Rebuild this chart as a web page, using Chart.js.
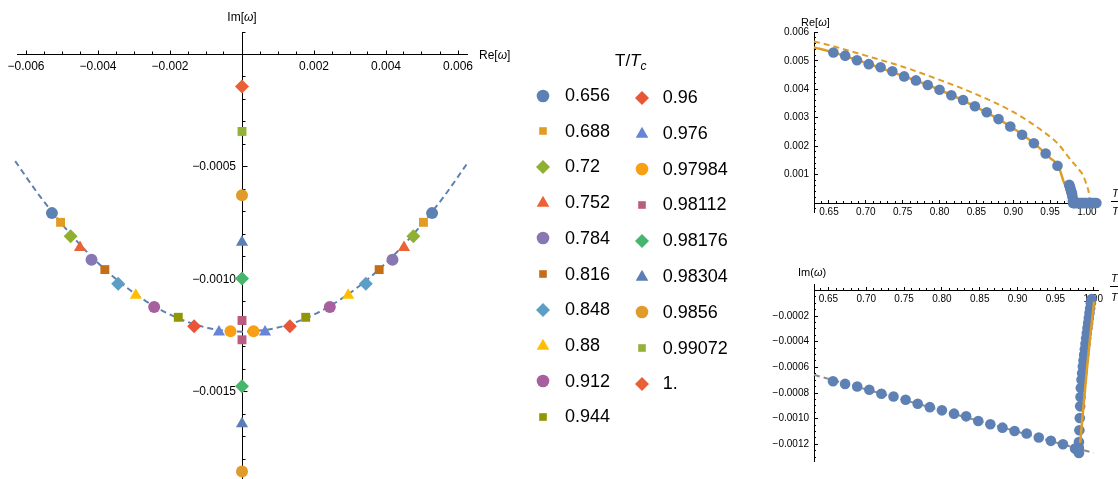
<!DOCTYPE html>
<html>
<head>
<meta charset="utf-8">
<title>Quasinormal modes near T_c</title>
<script src="https://cdn.jsdelivr.net/npm/chart.js@4.4.1/dist/chart.umd.min.js"></script>
<style>
  html, body { margin: 0; padding: 0; background: #fff; }
  body { position: relative; width: 1118px; height: 479px; overflow: hidden;
         font-family: "Liberation Sans", Arial, Helvetica, sans-serif; color: #000; }
  canvas { position: absolute; display: block; }
  .t { position: absolute; white-space: nowrap; line-height: 1; }
  .bar { position: absolute; height: 1px; background: #000; }
  #legend { position: absolute; left: 0; top: 0; width: 1118px; height: 479px; }
  #legend .row { position: absolute; white-space: nowrap; font-size: 18px; line-height: 18px; }
  #legend svg { position: absolute; overflow: visible; }
</style>
</head>
<body>
<canvas id="plane" width="520" height="479" style="left:0;top:0;width:520px;height:479px"></canvas>
<canvas id="rePanel" width="358" height="230" style="left:760px;top:0;width:358px;height:230px"></canvas>
<canvas id="imPanel" width="358" height="234" style="left:760px;top:245px;width:358px;height:234px"></canvas>

<!-- axis titles -->
<div class="t" style="left:242px;top:17px;font-size:12px;transform:translate(-50%,-50%)">Im[<i>ω</i>]</div>
<div class="t" style="left:479px;top:55px;font-size:12px;transform:translateY(-50%)">Re[<i>ω</i>]</div>
<div class="t" style="left:801px;top:22px;font-size:11px;transform:translateY(-50%)">Re[<i>ω</i>]</div>
<div class="t" style="left:798px;top:272px;font-size:11px;transform:translateY(-50%)">Im(<i>ω</i>)</div>
<div class="t" style="left:1112px;top:193px;font-size:11px;transform:translateY(-50%)"><i>T</i></div>
<div class="bar" style="left:1111px;top:201px;width:20px"></div>
<div class="t" style="left:1112px;top:213px;font-size:11px;transform:translateY(-50%)"><i>T<sub style="font-size:8px">c</sub></i></div>
<div class="t" style="left:1111px;top:278px;font-size:11px;transform:translateY(-50%)"><i>T</i></div>
<div class="bar" style="left:1110px;top:286px;width:20px"></div>
<div class="t" style="left:1111px;top:299px;font-size:11px;transform:translateY(-50%)"><i>T<sub style="font-size:8px">c</sub></i></div>

<div id="legend">
  <div class="t" style="left:615px;top:62px;font-size:17px;transform:translateY(-50%)">T/<i>T</i><sub style="font-size:12px"><i>c</i></sub></div>
</div>

<script>
// ---------------- complex-frequency plane: one mode pair per temperature ----------------
const tempLabels = ['0.656', '0.688', '0.72', '0.752', '0.784', '0.816', '0.848', '0.88', '0.912', '0.944',
                    '0.96', '0.976', '0.97984', '0.98112', '0.98176', '0.98304', '0.9856', '0.99072', '1.'];
// |Re ω| of the complex pair (0 once the pair has become purely imaginary)
const modeRe = [0.00528, 0.00504, 0.00476, 0.00450, 0.00418, 0.00381, 0.00344, 0.00295, 0.00244, 0.00177,
                0.00133, 0.00064, 0.00032, 0, 0, 0, 0, 0, 0];
// Im ω of the pair (upper mode when purely imaginary)
const modeIm = [-0.000705, -0.000746, -0.000808, -0.000858, -0.000912, -0.000956, -0.001019, -0.00107, -0.001122, -0.001168,
                -0.001208, -0.001233, -0.00123, -0.001182, -0.000996, -0.000835, -0.000626, -0.000342, -0.000142];
// second purely imaginary mode (null where it lies below the plotted range)
const modeImLower = [null, null, null, null, null, null, null, null, null, null,
                     null, null, null, -0.001268, -0.001475, -0.001641, -0.001853, null, null];
// dashed guide curve through the complex pairs
const guideRe = [-0.0063, -0.0056, -0.0049, -0.0042, -0.0035, -0.0028, -0.0021, -0.0014, -0.0007, 0,
                 0.0007, 0.0014, 0.0021, 0.0028, 0.0035, 0.0042, 0.0049, 0.0056, 0.0063];
const guideIm = [-0.000474, -0.000633, -0.000773, -0.000895, -0.000998, -0.001082, -0.001148, -0.001195, -0.001223, -0.001232,
                 -0.001223, -0.001195, -0.001148, -0.001082, -0.000998, -0.000895, -0.000773, -0.000633, -0.000474];

const reMajorTicks = [-0.006, -0.004, -0.002, 0.002, 0.004, 0.006];
const reMajorLabels = ['\u22120.006', '\u22120.004', '\u22120.002', '0.002', '0.004', '0.006'];
const imMajorTicks = [-0.0005, -0.001, -0.0015];
const imMajorLabels = ['\u22120.0005', '\u22120.0010', '\u22120.0015'];

// ---------------- temperature sweeps ----------------
const tCoarse = [0.656, 0.672, 0.688, 0.704, 0.72, 0.736, 0.752, 0.768, 0.784, 0.8,
                 0.816, 0.832, 0.848, 0.864, 0.88, 0.896, 0.912, 0.928, 0.944, 0.96];
const reCoarse = [0.00529, 0.00518, 0.00502, 0.00488, 0.00477, 0.00463, 0.00445, 0.00431, 0.00415, 0.00398,
                  0.00379, 0.00362, 0.0034, 0.00319, 0.00295, 0.00269, 0.0024, 0.0021, 0.00174, 0.00131];
const imCoarse = [-0.000708, -0.000729, -0.000749, -0.000775, -0.000806, -0.000827, -0.000853, -0.000884, -0.00091, -0.000935,
                  -0.000961, -0.000982, -0.001018, -0.001044, -0.00107, -0.001096, -0.001116, -0.001147, -0.001173, -0.001199];
const tNear = [0.976, 0.9768, 0.9776, 0.9784, 0.9792, 0.97984, 0.9805, 0.981];
const reNear = [0.00064, 0.00058, 0.00051, 0.00043, 0.00036, 0.00032, 0.0002, 0.00008];
const imNear = [-0.001233, -0.001234, -0.001234, -0.001233, -0.001232, -0.00123, -0.001229, -0.001228];
// purely imaginary region: Re ω = 0
const tOnAxis = [0.98112, 0.98176, 0.9824, 0.98304, 0.98432, 0.9856, 0.98688, 0.98816, 0.98944, 0.99072,
                 0.992, 0.99328, 0.99456, 0.99584, 0.99712, 0.9984, 1.0, 1.0016, 1.0032, 1.0048,
                 1.0064, 1.008, 1.0096, 1.0112, 1.0128];
const tUpper = [0.98112, 0.9817, 0.9822, 0.98272, 0.98316, 0.9836, 0.98448, 0.98536, 0.98625, 0.98713, 0.98801,
                0.98889, 0.98977, 0.99065, 0.99153, 0.99241, 0.99329, 0.99418, 0.99506, 0.99594, 0.99682, 0.9977];
const imUpper = [-0.001182, -0.00109, -0.000995, -0.000904, -0.000831, -0.000761, -0.000696, -0.000645, -0.000593, -0.000546, -0.000502,
                 -0.000458, -0.000416, -0.000372, -0.000333, -0.000294, -0.000255, -0.000216, -0.000177, -0.000139, -0.0001, -0.000068];
const tLowerEdge = [0.98112];
const imLowerEdge = [-0.001268];

// fitted curves
const tReFit = [0.6297, 0.656, 0.70, 0.75, 0.80, 0.85, 0.90, 0.93, 0.95, 0.961, 0.968, 0.9733, 0.976, 0.9767];
const reFit = [0.00547, 0.00529, 0.00492, 0.00447, 0.00398, 0.00337, 0.00263, 0.00206, 0.00158, 0.00131, 0.00078, 0.00043, 0.00014, 0];
const tReOuter = [0.6297, 0.65, 0.70, 0.75, 0.80, 0.85, 0.90, 0.936, 0.96, 0.977, 0.99, 0.995, 1.0, 1.002, 1.0045];
const reOuter = [0.00568, 0.00555, 0.00518, 0.00479, 0.00433, 0.00382, 0.0032, 0.0026, 0.0021, 0.00155, 0.00115, 0.00096, 0.0006, 0.00043, 0];
const tImFit = [0.98272, 0.98707, 0.99158, 0.99594, 1.00123];
const imFit = [-0.001189, -0.000904, -0.000619, -0.00036, -0.000087];
const tImLine = [0.6309, 1.0003];
const imLine = [-0.000658, -0.001267];

const tMajorTicks = [0.65, 0.7, 0.75, 0.8, 0.85, 0.9, 0.95, 1.0];
const tMajorLabels = ['0.65', '0.70', '0.75', '0.80', '0.85', '0.90', '0.95', '1.00'];
const reSideTicks = [0.001, 0.002, 0.003, 0.004, 0.005, 0.006];
const reSideLabels = ['0.001', '0.002', '0.003', '0.004', '0.005', '0.006'];
const imSideTicks = [-0.0002, -0.0004, -0.0006, -0.0008, -0.001, -0.0012];
const imSideLabels = ['\u22120.0002', '\u22120.0004', '\u22120.0006', '\u22120.0008', '\u22120.0010', '\u22120.0012'];

// ---------------- styling ----------------
const FONT = '"Liberation Sans", Arial, Helvetica, sans-serif';
const BLUE = '#5E81B5', ORANGE = '#E19C24';
const markerShapes = ['circle', 'rect', 'rectRot', 'triangle'];
const markerColors = ['#5E81B5', '#E19C24', '#8FB032', '#EB6235', '#8778B3', '#C56E1A', '#5D9EC7', '#FFBF00', '#A5609D', '#929600',
                      '#E95536', '#6685D9', '#F89F13', '#BC5B80', '#47B66D', '#5A7FB7', '#E09B2A', '#92B23A', '#EA6035'];
const markerRadius = { circle: 6, rect: 6.3, rectRot: 7, triangle: 7 };

Chart.defaults.font.family = FONT;
Chart.defaults.animation = false;

function stepValues(from, to, step, skip) {
  const out = [];
  const n = Math.round((to - from) / step);
  for (let k = 0; k <= n; k++) {
    const v = +(from + k * step).toFixed(8);
    if (!skip.some(s => Math.abs(s - v) < step / 10)) out.push(v);
  }
  return out;
}

// Major (labelled) + minor (tick-only) scale pair, drawn as crossing axes.
function axisPair(id, axis, o) {
  const horizontal = axis === 'x';
  const fit = s => {
    if (horizontal) s.height = 0; else s.width = 0;
    s.paddingLeft = 0; s.paddingRight = 0; s.paddingTop = 0; s.paddingBottom = 0;
  };
  const base = { type: 'linear', axis, min: o.min, max: o.max, position: o.at, afterFit: fit };
  return {
    [id]: Object.assign({}, base, {
      grid: { drawOnChartArea: false, drawTicks: true, tickLength: -o.majorLen, tickColor: '#000', tickWidth: 1 },
      border: { display: true, color: '#000', width: 1 },
      ticks: {
        autoSkip: false, maxRotation: 0, minRotation: 0, padding: o.pad, color: '#000',
        font: { family: FONT, size: o.fontSize },
        callback: (v, i) => o.labels[i] + (horizontal ? '' : '\u2002')
      },
      afterBuildTicks: s => { s.ticks = o.major.map(value => ({ value })); }
    }),
    [id + 'm']: Object.assign({}, base, {
      grid: { drawOnChartArea: false, drawTicks: true, tickLength: -o.minorLen, tickColor: '#000', tickWidth: 1 },
      border: { display: false },
      ticks: { display: false, autoSkip: false },
      afterBuildTicks: s => { s.ticks = o.minor.map(value => ({ value })); }
    })
  };
}

function baseOptions(padding, scales) {
  return {
    responsive: false, maintainAspectRatio: false, animation: false, events: [],
    layout: { padding, autoPadding: false },
    plugins: { legend: { display: false }, tooltip: { enabled: false } },
    scales
  };
}

function pts(xs, ys) { return xs.map((x, k) => ({ x, y: ys[k] })); }

// ---------------- main panel ----------------
const planeSets = tempLabels.map((label, i) => {
  const data = [];
  if (modeRe[i] > 0) {
    data.push({ x: -modeRe[i], y: modeIm[i] }, { x: modeRe[i], y: modeIm[i] });
  } else {
    data.push({ x: 0, y: modeIm[i] });
    if (modeImLower[i] !== null) data.push({ x: 0, y: modeImLower[i] });
  }
  const shape = markerShapes[i % 4];
  return {
    label, data, showLine: false, pointStyle: shape, pointRadius: markerRadius[shape],
    pointBackgroundColor: markerColors[i], pointBorderWidth: 0, clip: false, order: 0
  };
});
planeSets.push({
  label: 'guide', data: pts(guideRe, guideIm), showLine: true, pointRadius: 0,
  borderColor: BLUE, borderWidth: 2, borderDash: [6, 4], cubicInterpolationMode: 'monotone',
  clip: false, order: 1
});

new Chart(document.getElementById('plane'), {
  type: 'scatter',
  data: { datasets: planeSets },
  options: baseOptions({ left: 17, right: 53, top: 32, bottom: 0 }, Object.assign(
    axisPair('x', 'x', {
      min: -0.00625, max: 0.00625, at: { y: 0 }, major: reMajorTicks, labels: reMajorLabels,
      minor: stepValues(-0.006, 0.006, 0.0005, reMajorTicks.concat([0])),
      majorLen: 4.5, minorLen: 2.5, fontSize: 12, pad: 9.5
    }),
    axisPair('y', 'y', {
      min: -0.0018867, max: 0.0001, at: { x: 0 }, major: imMajorTicks, labels: imMajorLabels,
      minor: stepValues(-0.0018, 0.0001, 0.0001, imMajorTicks.concat([0])),
      majorLen: 5.5, minorLen: 3.5, fontSize: 12, pad: 0
    })
  ))
});

// ---------------- Re ω vs T/Tc ----------------
new Chart(document.getElementById('rePanel'), {
  type: 'scatter',
  data: {
    datasets: [
      {
        label: 'Re ω', data: pts(tCoarse, reCoarse).concat(pts(tNear, reNear), tOnAxis.map(x => ({ x, y: 0 }))),
        showLine: false, pointRadius: 5.3, pointBackgroundColor: BLUE, pointBorderWidth: 0, clip: false, order: 0
      },
      {
        label: 'fit', data: pts(tReFit, reFit), showLine: true, pointRadius: 0, borderColor: ORANGE, borderWidth: 2.5,
        cubicInterpolationMode: 'monotone', clip: false, order: 1
      },
      {
        label: 'outer', data: pts(tReOuter, reOuter), showLine: true, pointRadius: 0, borderColor: ORANGE, borderWidth: 2,
        borderDash: [6, 4], cubicInterpolationMode: 'monotone', clip: false, order: 2
      }
    ]
  },
  options: baseOptions({ left: 54, right: 18, top: 32.3, bottom: 17.6 }, Object.assign(
    axisPair('x', 'x', {
      min: 0.6297, max: 1.0177, at: { y: 0 }, major: tMajorTicks, labels: tMajorLabels,
      minor: stepValues(0.63, 1.01, 0.01, tMajorTicks),
      majorLen: 4, minorLen: 2, fontSize: 10, pad: 7.2
    }),
    axisPair('y', 'y', {
      min: -0.00033, max: 0.006, at: { x: 0.6297 }, major: reSideTicks, labels: reSideLabels,
      minor: stepValues(-0.0002, 0.0058, 0.0002, reSideTicks.concat([0])),
      majorLen: 4, minorLen: 2, fontSize: 10, pad: 0
    })
  ))
});

// ---------------- Im ω vs T/Tc ----------------
new Chart(document.getElementById('imPanel'), {
  type: 'scatter',
  data: {
    datasets: [
      {
        label: 'fit', data: pts(tImFit, imFit), showLine: true, pointRadius: 0, borderColor: ORANGE, borderWidth: 2.5,
        cubicInterpolationMode: 'monotone', clip: false, order: 0
      },
      {
        label: 'Im ω', data: pts(tCoarse, imCoarse).concat(pts(tNear, imNear), pts(tUpper, imUpper), pts(tLowerEdge, imLowerEdge)),
        showLine: false, pointRadius: 5.3, pointBackgroundColor: BLUE, pointBorderWidth: 0, clip: false, order: 1
      },
      {
        label: 'trend', data: pts(tImLine, imLine), showLine: true, pointRadius: 0, borderColor: '#8C8C8C', borderWidth: 2,
        borderDash: [6, 4], clip: false, order: 2
      }
    ]
  },
  options: baseOptions({ left: 54, right: 20, top: 39, bottom: 18 }, Object.assign(
    axisPair('x', 'x', {
      min: 0.6309, max: 1.0063, at: { y: 0 }, major: tMajorTicks, labels: tMajorLabels,
      minor: stepValues(0.64, 1.0, 0.01, tMajorTicks),
      majorLen: 4, minorLen: 2, fontSize: 10, pad: 7.2
    }),
    axisPair('y', 'y', {
      min: -0.00133, max: 0.00005, at: { x: 0.6309 }, major: imSideTicks, labels: imSideLabels,
      minor: stepValues(-0.0013, 0, 0.00005, imSideTicks.concat([0])),
      majorLen: 4, minorLen: 2, fontSize: 10, pad: 0
    })
  ))
});

// ---------------- legend ----------------
function markerSvg(shape, color, cx, cy) {
  let inner;
  if (shape === 'circle') inner = `<circle cx="0" cy="0" r="6.3" fill="${color}"/>`;
  else if (shape === 'rect') inner = `<rect x="-3.8" y="-3.8" width="7.6" height="7.6" fill="${color}"/>`;
  else if (shape === 'rectRot') inner = `<polygon points="0,-7 7,0 0,7 -7,0" fill="${color}"/>`;
  else inner = `<polygon points="0,-7.3 6.3,3.65 -6.3,3.65" fill="${color}"/>`;
  return `<svg width="1" height="1" style="left:${cx}px;top:${cy}px">${inner}</svg>`;
}
const legendEl = document.getElementById('legend');
let html = '';
tempLabels.forEach((label, i) => {
  const col = i < 10 ? 0 : 1;
  const row = col ? i - 10 : i;
  const cy = col ? 97 + row * 35.8 : 95 + row * 35.7;
  const mx = col ? 641.7 : 543.3;
  const tx = col ? 662.7 : 565;
  const shape = markerShapes[i % 4];
  html += markerSvg(shape, markerColors[i], mx, cy + (shape === 'triangle' ? 1 : 0.5));
  html += `<div class="row" style="left:${tx}px;top:${cy - 9}px">${label}</div>`;
});
legendEl.insertAdjacentHTML('beforeend', html);
</script>
</body>
</html>
